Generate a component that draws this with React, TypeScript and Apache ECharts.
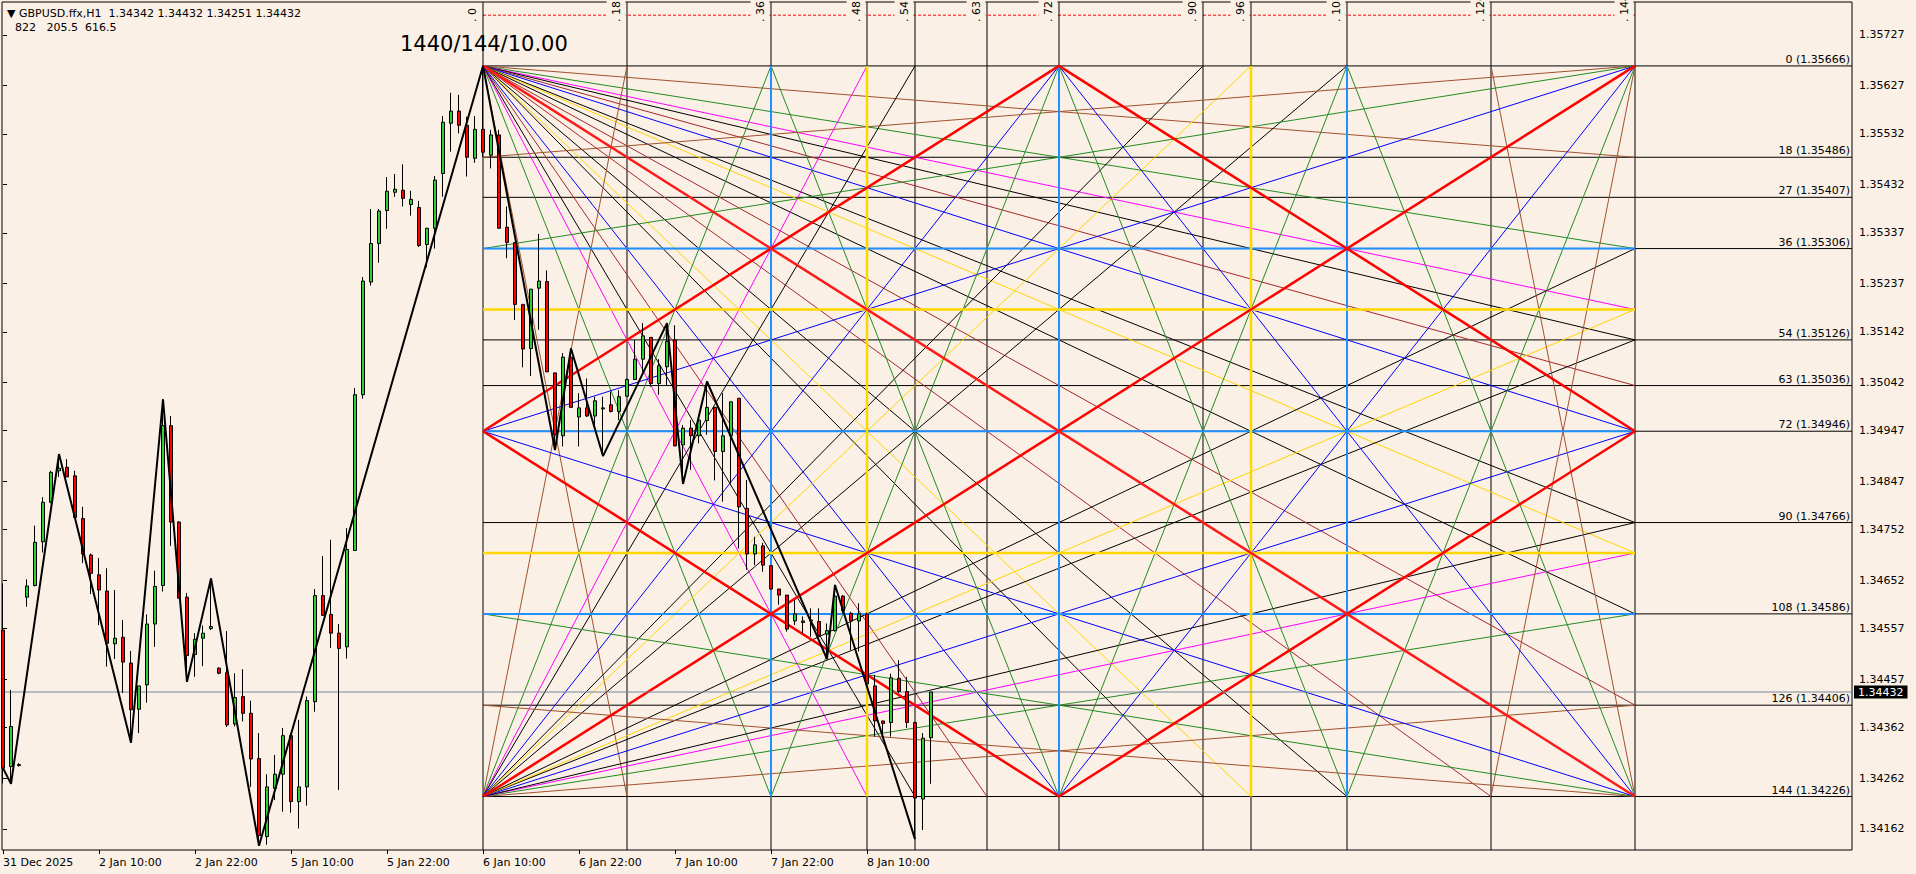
import React, { useEffect, useRef } from 'react';
import * as echarts from 'echarts';

// ---- candles (H1 bars, index 0 = 31 Dec 2025 label bar) ----
const OPEN = [1.34554,1.34285,1.34287,1.34619,1.34642,1.34728,1.34806,1.34868,1.34875,1.34858,1.34774,1.34702,1.34663,1.34631,1.34527,1.3454,1.34489,1.34398,1.34446,1.34566,1.34642,1.34957,1.34767,1.34619,1.34506,1.34538,1.34557,1.34479,1.3447,1.34369,1.34423,1.3439,1.34301,1.34147,1.34242,1.3427,1.34346,1.34216,1.34245,1.34413,1.34622,1.34585,1.34548,1.34521,1.34711,1.35018,1.3524,1.35316,1.35381,1.35417,1.35421,1.35393,1.35387,1.35314,1.35346,1.35454,1.35553,1.35577,1.35549,1.35484,1.35541,1.3549,1.3553,1.35348,1.35318,1.35196,1.35109,1.35228,1.35241,1.35061,1.34937,1.35092,1.34974,1.34992,1.34976,1.3499,1.34998,1.34985,1.35015,1.35048,1.35088,1.35131,1.3504,1.35073,1.35126,1.34919,1.34952,1.34937,1.34967,1.34993,1.34906,1.34937,1.35011,1.34794,1.34704,1.3472,1.34681,1.34635,1.34623,1.34572,1.34569,1.34572,1.34571,1.34546,1.34553,1.34621,1.34587,1.34572,1.34586,1.34444,1.34375,1.34372,1.34459,1.34433,1.34372,1.34221,1.34342];
const HIGH = [1.34646,1.34436,1.34292,1.34654,1.3476,1.34816,1.34868,1.34901,1.34891,1.34868,1.34797,1.34705,1.34696,1.34676,1.34633,1.34574,1.34513,1.34444,1.34585,1.34671,1.35009,1.34976,1.34769,1.34627,1.34548,1.34563,1.34656,1.34481,1.34552,1.34469,1.34477,1.34415,1.34351,1.3427,1.34308,1.34361,1.34351,1.34377,1.34423,1.34635,1.347,1.34732,1.34566,1.34755,1.35031,1.3525,1.35384,1.35384,1.35447,1.35453,1.35472,1.3542,1.354,1.35347,1.35449,1.35567,1.35613,1.35609,1.35566,1.35567,1.35666,1.3554,1.3554,1.35389,1.35318,1.35196,1.35226,1.35335,1.35263,1.35061,1.351,1.35109,1.35021,1.3505,1.35014,1.35014,1.35024,1.35027,1.3505,1.35126,1.35159,1.35131,1.35088,1.35159,1.35155,1.34958,1.34968,1.34978,1.35044,1.34994,1.35021,1.35004,1.35011,1.3485,1.34738,1.34726,1.34681,1.34635,1.34623,1.34613,1.34581,1.34597,1.34597,1.34567,1.34643,1.34623,1.3459,1.34607,1.34588,1.34466,1.34375,1.34468,1.34495,1.34462,1.34372,1.34351,1.34432];
const LOW = [1.34252,1.34251,1.34285,1.346,1.3464,1.34707,1.34804,1.34856,1.34856,1.34776,1.34686,1.34625,1.34564,1.34482,1.34497,1.3443,1.34332,1.34351,1.34411,1.34521,1.3463,1.3472,1.34617,1.34452,1.34462,1.34483,1.34554,1.34467,1.34363,1.34364,1.34374,1.34245,1.34129,1.34131,1.34219,1.34196,1.34194,1.34163,1.34208,1.34393,1.34583,1.34519,1.34239,1.34498,1.34711,1.3501,1.35233,1.35278,1.35345,1.35408,1.35389,1.35371,1.35309,1.35269,1.35306,1.35408,1.35497,1.35533,1.35448,1.35475,1.35486,1.35464,1.35346,1.35287,1.35165,1.35072,1.35055,1.35146,1.35063,1.34909,1.34916,1.34993,1.34916,1.34974,1.34955,1.34897,1.34983,1.34968,1.35014,1.35048,1.35063,1.35034,1.35018,1.35037,1.34917,1.34842,1.3487,1.34922,1.34939,1.34849,1.34807,1.34843,1.34715,1.34673,1.34682,1.34669,1.34633,1.34604,1.34551,1.34564,1.34548,1.34541,1.34541,1.34497,1.34551,1.34587,1.34515,1.34512,1.34448,1.34344,1.34344,1.34344,1.3443,1.34361,1.34142,1.3416,1.34251];
const CLOSE = [1.34282,1.34364,1.34289,1.34641,1.34727,1.34806,1.34865,1.34873,1.34856,1.34776,1.34704,1.34666,1.34633,1.34528,1.34538,1.34491,1.34397,1.34444,1.34566,1.3464,1.34957,1.34767,1.34617,1.34504,1.34536,1.34548,1.34561,1.34469,1.34367,1.34421,1.3439,1.343,1.34149,1.34245,1.3427,1.34346,1.34216,1.34245,1.34415,1.34622,1.34583,1.34548,1.34518,1.34713,1.35018,1.35242,1.35316,1.3538,1.35419,1.35423,1.35405,1.35403,1.35312,1.35346,1.35441,1.35555,1.35577,1.35549,1.35486,1.35541,1.35496,1.3553,1.35346,1.35318,1.35196,1.35108,1.35226,1.35242,1.35063,1.34939,1.35092,1.34993,1.34992,1.34976,1.35006,1.34992,1.34985,1.35014,1.35048,1.35088,1.35134,1.3504,1.35075,1.35123,1.34917,1.34952,1.34937,1.34968,1.34993,1.34906,1.34937,1.35004,1.34797,1.34704,1.34722,1.34682,1.34635,1.34623,1.34556,1.34586,1.34572,1.34574,1.34544,1.34553,1.34621,1.34592,1.34572,1.34586,1.34448,1.34375,1.3437,1.3446,1.34433,1.34372,1.34223,1.34341,1.34432];

// ---- time axis ----
const TIME_TICK_BARS = [0, 12, 24, 36, 48, 60, 72, 84, 96, 108];
const TIME_TICK_LABELS = ['31 Dec 2025', '2 Jan 10:00', '2 Jan 22:00', '5 Jan 10:00', '5 Jan 22:00', '6 Jan 10:00', '6 Jan 22:00', '7 Jan 10:00', '7 Jan 22:00', '8 Jan 10:00'];

// ---- price axis ----
const PRICE_TICKS = [1.35727, 1.35627, 1.35532, 1.35432, 1.35337, 1.35237, 1.35142, 1.35042, 1.34947, 1.34847, 1.34752, 1.34652, 1.34557, 1.34457, 1.34362, 1.34262, 1.34162];

// ---- zigzag ----
const ZIGZAG_BARS = [0, 1, 7, 16, 20, 23, 26, 32, 60, 69, 71, 75, 83, 85, 88, 103, 104, 114];
const ZIGZAG_PRICES = [1.34282, 1.34251, 1.34901, 1.34332, 1.35009, 1.34452, 1.34656, 1.34129, 1.35666, 1.34909, 1.35109, 1.34897, 1.35159, 1.34842, 1.35044, 1.34497, 1.34643, 1.34142];

// ---- Gann square 1440/144/10.00 ----
const GANN_START_BAR = 60;
const GANN_TOP_PRICE = 1.35666;
const GANN_STEP = 0.0001;
const GANN_SIZE = 144;
const GANN_VERTICALS = [0, 18, 36, 48, 54, 63, 72, 90, 96, 108, 126, 144];
const GANN_LEVELS = [0, 18, 27, 36, 54, 63, 72, 90, 108, 126, 144];
const GANN_LEVEL_PRICES = [1.35666, 1.35486, 1.35407, 1.35306, 1.35126, 1.35036, 1.34946, 1.34766, 1.34586, 1.34406, 1.34226];
const GANN_BLUE = [36, 72, 108];
const GANN_GOLD = [48, 96];
const FAN_TOP_LEFT = [18, 36, 48, 54, 63, 72, 90, 96, 108, 126];
const FAN_BOTTOM_LEFT = [18, 36, 48, 54, 72, 90, 96, 108];
const FAN_RIGHT = [18, 36, 72];
const GREEN_CROSS = [[36, 72], [72, 36], [72, 108], [108, 72]];
const FAN_COLORS: Record<number, string> = { 18: '#a0522d', 36: '#228b22', 48: '#ff00ff', 54: '#000000', 63: '#a52a2a', 72: '#0000ff', 90: '#000000', 96: '#ffd700', 108: '#000000', 126: '#a52a2a' };

const LAST_PRICE = 1.34432;
const TOP_MARK_PRICE = 1.35766;
const X_MIN = -0.125, X_MAX = 231.125, Y_MIN = 1.341206, Y_MAX = 1.35792;

const BG = '#faf0e6';
const FONT = '"DejaVu Sans", Verdana, sans-serif';

const gp = (u: number, l: number) => [GANN_START_BAR + u, GANN_TOP_PRICE - l * GANN_STEP];

const lineSeries = (pts: number[][], color: string, width: number, z: number, type: any = 'solid') => ({
  type: 'line', data: pts, symbol: 'none', silent: true, z, animation: false,
  lineStyle: { color, width, type }, emphasis: { disabled: true },
});

function buildSeries() {
  const s: any[] = [];
  const S = GANN_SIZE;
  // dashed mark line on top
  s.push(lineSeries([[GANN_START_BAR, TOP_MARK_PRICE], [GANN_START_BAR + S, TOP_MARK_PRICE]], '#ff0000', 1, 1, [3, 2]));
  // black verticals full height
  GANN_VERTICALS.forEach(u => s.push(lineSeries([[GANN_START_BAR + u, Y_MAX], [GANN_START_BAR + u, Y_MIN]], '#000', 1, 4)));
  // black horizontals to the right edge
  GANN_LEVEL_PRICES.forEach(p => s.push(lineSeries([[GANN_START_BAR, p], [X_MAX, p]], '#000', 1, 4)));
  // fans
  FAN_TOP_LEFT.forEach(k => {
    s.push(lineSeries([gp(0, 0), gp(S, k)], FAN_COLORS[k], 1, 5));
    s.push(lineSeries([gp(0, 0), gp(k, S)], FAN_COLORS[k], 1, 5));
  });
  FAN_BOTTOM_LEFT.forEach(k => {
    s.push(lineSeries([gp(0, S), gp(S, S - k)], FAN_COLORS[k], 1, 5));
    s.push(lineSeries([gp(0, S), gp(k, 0)], FAN_COLORS[k], 1, 5));
  });
  FAN_RIGHT.forEach(k => {
    s.push(lineSeries([gp(S, 0), gp(0, k)], FAN_COLORS[k], 1, 5));
    s.push(lineSeries([gp(S, 0), gp(S - k, S)], FAN_COLORS[k], 1, 5));
    s.push(lineSeries([gp(S, S), gp(0, S - k)], FAN_COLORS[k], 1, 5));
    s.push(lineSeries([gp(S, S), gp(S - k, 0)], FAN_COLORS[k], 1, 5));
  });
  GREEN_CROSS.forEach(([a, b]) => s.push(lineSeries([gp(a, 0), gp(b, S)], FAN_COLORS[36], 1, 5)));
  // thick blue / gold inside the square
  GANN_BLUE.forEach(u => {
    s.push(lineSeries([gp(u, 0), gp(u, S)], '#1e90ff', 2, 6));
    s.push(lineSeries([gp(0, u), gp(S, u)], '#1e90ff', 2, 6));
  });
  GANN_GOLD.forEach(u => {
    s.push(lineSeries([gp(u, 0), gp(u, S)], '#ffd700', 2.5, 6));
    s.push(lineSeries([gp(0, u), gp(S, u)], '#ffd700', 2.5, 6));
  });
  // red diamond and diagonals
  s.push(lineSeries([gp(0, S / 2), gp(S / 2, 0), gp(S, S / 2), gp(S / 2, S), gp(0, S / 2)], '#ff0000', 2.5, 7));
  s.push(lineSeries([gp(0, S), gp(S, 0)], '#ff0000', 2.5, 7));
  s.push(lineSeries([gp(0, 0), gp(S, S)], '#ff1a1a', 2.5, 7));
  // current price line
  s.push(lineSeries([[X_MIN, LAST_PRICE], [X_MAX, LAST_PRICE]], '#778899', 1, 8));
  // candles
  s.push({
    type: 'candlestick', z: 10, silent: true, animation: false, barWidth: 4,
    data: OPEN.map((o, i) => [i, o, CLOSE[i], LOW[i], HIGH[i]]),
    itemStyle: { color: '#32cd32', color0: '#ff0000', borderColor: '#000', borderColor0: '#000', borderColorDoji: '#000', borderWidth: 1 },
  });
  // zigzag
  s.push(lineSeries(ZIGZAG_BARS.map((b, i) => [b, ZIGZAG_PRICES[i]]), '#000', 2, 11));
  return s;
}

export default function App() {
  const ref = useRef<HTMLDivElement>(null);
  useEffect(() => {
    document.body.style.margin = '0';
    const chart = echarts.init(ref.current!, null, { renderer: 'svg' });
    chart.setOption({
      animation: false,
      backgroundColor: BG,
      grid: { left: 2, right: 64, top: 2, bottom: 24, show: true, borderColor: '#000', borderWidth: 1, backgroundColor: BG },
      xAxis: {
        type: 'value', min: X_MIN, max: X_MAX,
        axisLine: { show: false }, splitLine: { show: false },
        axisTick: { show: true, length: 4, lineStyle: { color: '#000' }, customValues: TIME_TICK_BARS },
        axisLabel: {
          customValues: TIME_TICK_BARS, align: 'left', margin: 7, fontFamily: FONT, fontSize: 11, color: '#000',
          formatter: (v: number) => TIME_TICK_LABELS[TIME_TICK_BARS.indexOf(Math.round(v))] ?? '',
        },
      },
      yAxis: {
        type: 'value', position: 'right', min: Y_MIN, max: Y_MAX, scale: true,
        axisLine: { show: false }, splitLine: { show: false },
        axisTick: { show: true, length: 4, lineStyle: { color: '#000' }, customValues: PRICE_TICKS },
        axisLabel: { customValues: PRICE_TICKS, margin: 7, fontFamily: FONT, fontSize: 11, color: '#000', formatter: (v: number) => v.toFixed(5) },
      },
      series: buildSeries(),
    });

    const px = (x: number, y: number) => chart.convertToPixel({ gridIndex: 0 }, [x, y]) as number[];
    const g: any[] = [];
    const font11 = `11px ${FONT}`;
    g.push({ type: 'text', x: 7, y: 13, z: 20, style: { text: '▼ GBPUSD.ffx,H1  1.34342 1.34432 1.34251 1.34432', font: font11, fill: '#000', verticalAlign: 'middle', textVerticalAlign: 'middle' } });
    g.push({ type: 'text', x: 15, y: 27, z: 20, style: { text: '822   205.5  616.5', font: font11, fill: '#000', verticalAlign: 'middle', textVerticalAlign: 'middle' } });
    g.push({ type: 'text', x: 400, y: 44, z: 20, style: { text: '1440/144/10.00', font: `21px ${FONT}`, fill: '#000', verticalAlign: 'middle', textVerticalAlign: 'middle' } });
    GANN_VERTICALS.forEach(u => {
      const p = px(GANN_START_BAR + u, Y_MAX);
      g.push({
        type: 'text', x: p[0] - 11, y: 23, rotation: Math.PI / 2, z: 3,
        style: { text: '. ' + u, font: font11, fill: '#000', align: 'left', verticalAlign: 'middle', textAlign: 'left', textVerticalAlign: 'middle', backgroundColor: BG, padding: [4, 1, 4, 1] },
      });
    });
    GANN_LEVELS.forEach((u, i) => {
      const p = px(X_MAX, GANN_LEVEL_PRICES[i]);
      g.push({
        type: 'text', x: 1850, y: p[1] - 1, z: 20,
        style: { text: `${u} (${GANN_LEVEL_PRICES[i].toFixed(5)})`, font: font11, fill: '#000', align: 'right', verticalAlign: 'bottom', textAlign: 'right', textVerticalAlign: 'bottom' },
      });
    });
    const lp = px(X_MAX, LAST_PRICE);
    g.push({
      type: 'text', x: 1854, y: lp[1], z: 20,
      style: { text: LAST_PRICE.toFixed(5), font: font11, fill: '#fff', align: 'left', verticalAlign: 'middle', textAlign: 'left', textVerticalAlign: 'middle', backgroundColor: '#000', padding: [1, 4, 1, 4] },
    });
    chart.setOption({ graphic: g });
    return () => chart.dispose();
  }, []);
  return <div ref={ref} style={{ width: 1916, height: 874 }} />;
}
